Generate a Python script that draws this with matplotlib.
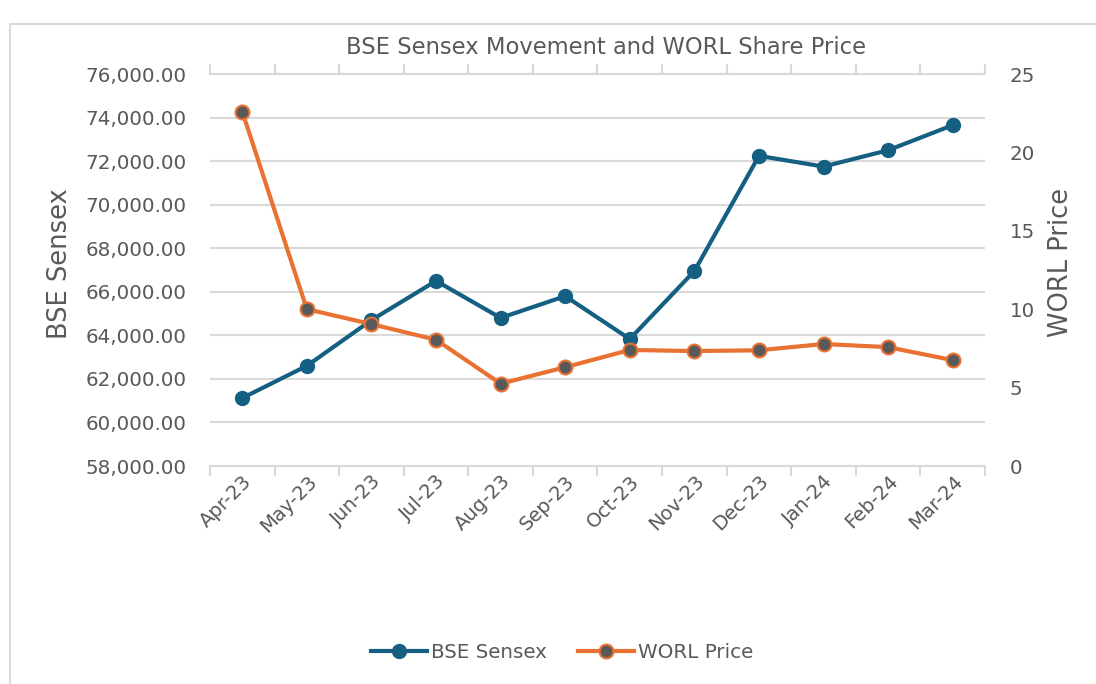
import matplotlib
matplotlib.use("Agg")
import matplotlib.pyplot as plt
from matplotlib.patches import Rectangle
from matplotlib.lines import Line2D
from matplotlib.ticker import FuncFormatter, MultipleLocator

months = ["Apr-23", "May-23", "Jun-23", "Jul-23", "Aug-23", "Sep-23",
          "Oct-23", "Nov-23", "Dec-23", "Jan-24", "Feb-24", "Mar-24"]
bse_sensex = [61120, 62600, 64700, 66500, 64800, 65800,
              63830, 66950, 72240, 71750, 72500, 73650]
worl_price = [22.6, 10.0, 9.05, 8.05, 5.25, 6.3,
              7.4, 7.33, 7.38, 7.78, 7.58, 6.75]

BLUE = "#156082"
ORANGE = "#E97132"
TXT = "#595959"
GRID = "#D9D9D9"

plt.rcParams["font.family"] = ["DejaVu Sans"]

fig = plt.figure(figsize=(10.96, 6.84), dpi=100)
fig.patches.append(Rectangle((10/1096, -0.1), 1.1, 1.1 - 24/684, transform=fig.transFigure,
                             fill=False, edgecolor="#D9D9D9", linewidth=1.5))

ax = fig.add_axes([210/1096, 1 - 466/684, 775/1096, 392/684])
ax2 = ax.twinx()

x = list(range(len(months)))
ax.plot(x, bse_sensex, color=BLUE, linewidth=3.0, marker="o", markersize=10,
        markerfacecolor=BLUE, markeredgecolor=BLUE, zorder=3)
ax2.plot(x, worl_price, color=ORANGE, linewidth=3.0, marker="o", markersize=10,
         markerfacecolor="#595959", markeredgecolor=ORANGE, markeredgewidth=1.5, zorder=3)

ax.set_xlim(-0.5, len(months) - 0.5)
ax.set_ylim(58000, 76000)
ax.yaxis.set_major_locator(MultipleLocator(2000))
ax.yaxis.set_major_formatter(FuncFormatter(lambda v, p: f"{v:,.2f}"))
ax2.set_ylim(0, 25)
ax2.yaxis.set_major_locator(MultipleLocator(5))

ax.grid(axis="y", color=GRID, linewidth=1.5)
ax.set_axisbelow(True)

for a in (ax, ax2):
    for s in a.spines.values():
        s.set_visible(False)
for side in ("bottom", "top"):
    ax.spines[side].set_visible(True)
    ax.spines[side].set_color(GRID)
    ax.spines[side].set_linewidth(1.5)

ax.set_xticks([i - 0.5 for i in range(len(months) + 1)], minor=False)
ax.set_xticklabels([])
ax.set_xticks(x, minor=True)
ax.set_xticklabels(months, minor=True, rotation=45, ha="right", rotation_mode="anchor",
                   fontsize=14, color=TXT)
ax.tick_params(axis="x", which="major", length=7, color=GRID, width=1.5, top=True)
ax.tick_params(axis="x", which="minor", length=0, pad=4)

ax.tick_params(axis="y", length=0, labelsize=14.3, labelcolor=TXT, pad=17)
ax2.tick_params(axis="y", length=0, labelsize=14.3, labelcolor=TXT, pad=18)

fig.text(60/1096, 1 - 264/684, "BSE Sensex", rotation=90, ha="center", va="center",
         fontsize=18.5, color=TXT)
fig.text(1061/1096, 1 - 262/684, "WORL Price", rotation=90, ha="center", va="center",
         fontsize=18.5, color=TXT)

fig.text(606/1096, 1 - 48/684, "BSE Sensex Movement and WORL Share Price",
         ha="center", va="center", fontsize=16.3, color=TXT)

handles = [Line2D([], [], color=BLUE, linewidth=3.0, marker="o", markersize=10,
                  markerfacecolor=BLUE, markeredgecolor=BLUE),
           Line2D([], [], color=ORANGE, linewidth=3.0, marker="o", markersize=10,
                  markerfacecolor="#595959", markeredgecolor=ORANGE, markeredgewidth=1.5)]
fig.legend(handles, ["BSE Sensex", "WORL Price"], loc="center",
           bbox_to_anchor=(562/1096, 1 - 652/684), ncol=2, frameon=False,
           fontsize=14.3, labelcolor=TXT, handlelength=2.8, handletextpad=0.2,
           columnspacing=1.6)

fig.savefig("out.png", dpi=100)
